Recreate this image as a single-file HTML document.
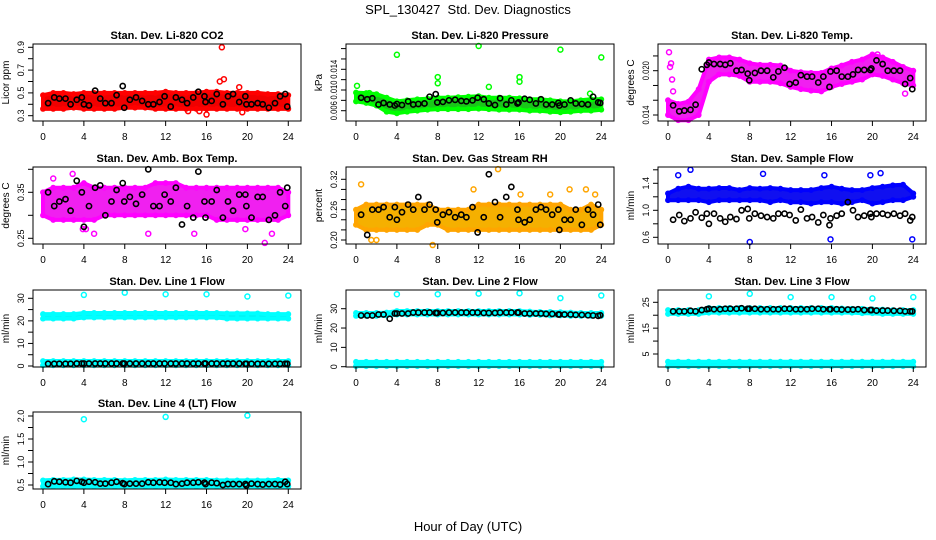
<!DOCTYPE html>
<html><head><meta charset="utf-8"><style>
body{margin:0;background:#fff}
svg{display:block;font-family:"Liberation Sans",sans-serif}
</style></head><body>
<svg id="chart" width="936" height="540" viewBox="0 0 936 540" xmlns="http://www.w3.org/2000/svg">
<text x="468" y="14" font-size="13" text-anchor="middle" xml:space="preserve">SPL_130427  Std. Dev. Diagnostics</text>
<text x="468" y="531" font-size="13" text-anchor="middle">Hour of Day (UTC)</text>
</svg>
<script>
const bandHours=[0,1,2,3,4,5,6,7,8,9,10,11,12,13,14,15,16,17,18,19,20,21,22,23,24];
const blackTimes=[0.5,1.1,1.6,2.2,2.7,3.3,3.8,4.0,4.5,5.1,5.6,6.1,6.7,7.2,7.8,7.95,8.5,9.1,9.7,10.3,10.8,11.4,11.9,12.5,13.0,13.6,14.1,14.7,15.2,15.8,15.9,16.5,17.0,17.6,18.1,18.6,19.2,19.8,19.9,20.4,21.0,21.5,22.1,22.7,23.2,23.7,23.9];
const xTicks=[0,4,8,12,16,20,24];
const titles=["Stan. Dev. Li-820 CO2","Stan. Dev. Li-820 Pressure","Stan. Dev. Li-820 Temp.","Stan. Dev. Amb. Box Temp.","Stan. Dev. Gas Stream RH","Stan. Dev. Sample Flow","Stan. Dev. Line 1 Flow","Stan. Dev. Line 2 Flow","Stan. Dev. Line 3 Flow","Stan. Dev. Line 4 (LT) Flow"];
const yTitles=["Licor ppm","kPa","degrees C","degrees C","percent","ml/min","ml/min","ml/min","ml/min","ml/min"];
const yTickVals=[[0.3,0.4,0.5,0.6,0.7,0.8,0.9],[0.006,0.008,0.010,0.012,0.014,0.016,0.018],[0.014,0.016,0.018,0.020,0.022],[0.25,0.30,0.35,0.40],[0.20,0.22,0.24,0.26,0.28,0.30,0.32],[0.6,0.8,1.0,1.2,1.4,1.6],[0,5,10,15,20,25,30],[0,10,20,30],[5,10,15,20,25],[0.5,0.75,1.0,1.25,1.5,1.75,2.0]];
const yTickLabels=[["0.3","","0.5","","0.7","","0.9"],["0.006","","0.010","","0.014","",""],["0.014","","","0.020",""],["0.25","","0.35",""],["0.20","","","0.26","","","0.32"],["0.6","","1.0","","1.4",""],["0","","10","","20","","30"],["0","10","20","30"],["5","","15","","25"],["0.5","","1.0","","1.5","","2.0"]];
const bandLo1=[.36,.36,.36,.37,.36,.36,.36,.36,.37,.37,.37,.36,.36,.36,.36,.36,.36,.36,.36,.36,.36,.36,.36,.36,.36];
const bandHi1=[.48,.50,.50,.49,.50,.50,.50,.50,.50,.50,.50,.50,.51,.50,.50,.50,.51,.51,.50,.50,.50,.50,.49,.49,.48];
const bandLo2=[.0078,.0075,.0070,.0058,.0055,.0058,.0060,.0062,.0063,.0063,.0063,.0063,.0064,.0063,.0062,.0062,.0062,.0060,.0060,.0058,.0057,.0058,.0060,.0060,.0062];
const bandHi2=[.0095,.0094,.0092,.0085,.0078,.0080,.0082,.0083,.0085,.0085,.0086,.0087,.0088,.0085,.0085,.0085,.0084,.0082,.0082,.0080,.0078,.0078,.0080,.0082,.0082];
const bandLo3=[.0140,.0133,.0133,.0140,.0185,.0195,.0195,.0193,.0185,.0185,.0185,.0183,.0178,.0175,.0173,.0172,.0178,.0182,.0185,.0188,.0195,.0193,.0188,.0183,.0180];
const bandHi3=[.0160,.0155,.0158,.0175,.0215,.0218,.0218,.0215,.0210,.0208,.0208,.0207,.0200,.0198,.0197,.0197,.0203,.0207,.0212,.0215,.0222,.0218,.0212,.0205,.0200];
const bandLo4=[.30,.29,.29,.29,.29,.29,.30,.30,.30,.30,.30,.30,.30,.30,.30,.30,.30,.29,.29,.29,.29,.29,.29,.29,.30];
const bandHi4=[.35,.36,.36,.36,.37,.36,.36,.36,.36,.36,.36,.37,.37,.37,.36,.36,.36,.36,.36,.36,.36,.36,.36,.36,.35];
const bandLo5=[.23,.22,.22,.22,.22,.22,.22,.23,.23,.22,.22,.22,.22,.22,.22,.22,.22,.22,.22,.22,.22,.22,.22,.22,.23];
const bandHi5=[.26,.27,.27,.27,.27,.27,.27,.27,.26,.26,.26,.26,.27,.27,.27,.27,.27,.27,.27,.27,.27,.26,.26,.27,.26];
const bandLo6=[1.15,1.15,1.15,1.15,1.12,1.15,1.15,1.15,1.15,1.15,1.12,1.15,1.12,1.12,1.10,1.12,1.12,1.10,1.12,1.15,1.10,1.12,1.15,1.15,1.20];
const bandHi6=[1.25,1.32,1.35,1.32,1.32,1.33,1.33,1.30,1.33,1.32,1.33,1.32,1.30,1.30,1.30,1.33,1.35,1.32,1.30,1.30,1.33,1.35,1.37,1.38,1.25];
const bandLo7a=[21,21,21,21,21.5,21.5,21.5,21.5,21.5,21.5,21.5,21.5,21.5,21.5,21.5,21.5,21.5,21.5,21,21,21,21,21,21,21];
const bandHi7a=[23,23,23,23,23.5,23.5,23.5,23.5,23.5,23.5,23.5,23.5,23.5,23.5,23.5,23.5,23.5,23.5,23.3,23.3,23.3,23.3,23,23,23];
const bandLo7b=[0.3,0.3,0.3,0.3,0.3,0.3,0.3,0.3,0.3,0.3,0.3,0.3,0.3,0.3,0.3,0.3,0.3,0.3,0.3,0.3,0.3,0.3,0.3,0.3,0.3];
const bandHi7b=[2.2,2.2,2.2,2.2,2.2,2.2,2.2,2.2,2.2,2.2,2.2,2.2,2.2,2.2,2.2,2.2,2.2,2.2,2.2,2.2,2.2,2.2,2.2,2.2,2.2];
const bandLo8a=[26.3,26.3,26.3,26.5,27,27,27,27,27,27,27,27,27,27,27,27,27,26.8,26.8,26.5,26.5,26.3,26.3,26.3,26.3];
const bandHi8a=[27.8,27.8,27.8,28,28.8,28.8,28.8,28.8,28.8,28.8,28.8,28.8,28.8,28.8,28.8,28.8,28.8,28.5,28.3,28.3,28.2,28,27.8,27.8,27.8];
const bandLo8b=[0.3,0.3,0.3,0.3,0.3,0.3,0.3,0.3,0.3,0.3,0.3,0.3,0.3,0.3,0.3,0.3,0.3,0.3,0.3,0.3,0.3,0.3,0.3,0.3,0.3];
const bandHi8b=[2.5,2.5,2.5,2.5,2.5,2.5,2.5,2.5,2.5,2.5,2.5,2.5,2.5,2.5,2.5,2.5,2.5,2.5,2.5,2.5,2.5,2.5,2.5,2.5,2.5];
const bandLo9a=[20.5,20.5,20.5,20.5,21,21,21,21,21,21,21,21,21,21,21,21,21,21,21,20.8,20.8,20.5,20.5,20.5,20.5];
const bandHi9a=[22,22,22,22,22.8,22.8,22.8,22.8,22.8,22.8,22.8,22.8,22.8,22.8,22.8,22.8,22.8,22.6,22.5,22.5,22.3,22.2,22,22,22];
const bandLo9b=[0.3,0.3,0.3,0.3,0.3,0.3,0.3,0.3,0.3,0.3,0.3,0.3,0.3,0.3,0.3,0.3,0.3,0.3,0.3,0.3,0.3,0.3,0.3,0.3,0.3];
const bandHi9b=[2,2,2,2,2,2,2,2,2,2,2,2,2,2,2,2,2,2,2,2,2,2,2,2,2];
const bandLo10=[.47,.47,.47,.47,.47,.47,.47,.47,.47,.47,.47,.47,.47,.47,.47,.47,.47,.47,.47,.47,.47,.47,.47,.47,.47];
const bandHi10=[.60,.61,.61,.62,.62,.61,.61,.61,.60,.61,.61,.61,.62,.61,.61,.61,.61,.60,.60,.60,.60,.60,.60,.61,.60];
const black1=[.41,.46,.45,.45,.40,.44,.46,.40,.39,.52,.45,.41,.41,.48,.56,.37,.44,.46,.43,.40,.40,.42,.47,.38,.46,.44,.41,.46,.51,.47,.42,.43,.49,.40,.47,.49,.42,.47,.40,.40,.41,.40,.37,.41,.47,.49,.38];
const black2=[.0085,.0082,.0084,.0072,.0075,.0072,.0070,.0073,.0071,.0078,.0072,.0073,.0074,.0087,.0092,.0076,.0077,.0080,.0081,.0079,.0078,.0080,.0085,.0082,.0074,.0071,.0084,.0072,.0080,.0074,.0076,.0083,.0081,.0074,.0082,.0072,.0072,.0075,.0070,.0072,.0080,.0074,.0073,.0072,.0087,.0076,.0075];
const black3=[.0153,.0145,.0146,.0147,.0154,.0202,.0208,.0211,.0209,.0209,.0208,.0210,.0200,.0201,.0196,.0187,.0197,.0200,.0200,.0191,.0199,.0204,.0182,.0184,.0194,.0192,.0192,.0184,.0192,.0178,.0199,.0200,.0192,.0192,.0195,.0201,.0201,.0201,.0203,.0214,.0209,.0200,.0200,.0200,.0182,.0190,.0175];
const black4=[.35,.32,.33,.335,.31,.375,.35,.275,.32,.36,.365,.30,.33,.355,.37,.33,.34,.325,.345,.40,.32,.32,.345,.33,.36,.28,.32,.295,.395,.33,.295,.33,.355,.295,.33,.31,.345,.345,.32,.295,.34,.34,.29,.30,.35,.32,.36];
const black5=[.25,.21,.26,.26,.265,.245,.265,.24,.255,.27,.26,.285,.26,.27,.26,.235,.25,.255,.245,.25,.245,.265,.215,.245,.33,.275,.245,.285,.305,.26,.24,.235,.24,.26,.265,.26,.25,.26,.22,.24,.24,.26,.23,.26,.25,.27,.23];
const black6=[.86,.93,.84,.88,.97,.89,.95,.80,.95,.88,.83,.90,.87,1.00,1.02,.88,.95,.92,.90,.88,.95,.95,.93,.85,1.01,.88,.90,.82,.93,.78,.88,.92,.95,1.12,1.00,.90,.92,.95,.90,.95,.95,.93,.95,.92,.95,.85,.90];
const black7=[1.0,1.0,1.0,1.0,1.0,1.1,1.1,1.1,1.1,1.1,1.1,1.1,1.1,1.1,1.1,1.1,1.1,1.1,1.1,1.1,1.1,1.1,1.1,1.1,1.1,1.1,1.1,1.1,1.1,1.1,1.1,1.1,1.1,1.1,1.1,1.1,1.1,1.0,1.0,1.0,1.0,1.0,1.0,1.0,1.0,1.0,1.0];
const black8=[26.5,26.5,26.5,27,27,24.8,27.5,27.5,27.5,27.5,28,28,28,28,27.8,27.8,27.8,28,28,28,28,28,28,27.8,27.8,27.8,28,28,28,28,28,27.5,27.5,27.5,27.5,27.3,27.3,27,27,27,27,26.8,26.8,26.6,26.5,26.3,26.6];
const black9=[21.5,21.5,21.5,21.7,21.5,22,22.3,22.5,22.3,22.3,22.5,22.5,22.5,22.7,22.5,22.5,22.5,22.3,22.3,22.3,22.3,22.5,22.5,22.3,22.3,22.3,22.5,22.5,22.3,22.3,22.3,22.3,22.2,22.2,22.2,22.3,22,22,22,21.8,21.8,21.8,21.7,21.7,21.5,21.5,21.5];
const black10=[.52,.58,.57,.56,.55,.59,.57,.55,.57,.56,.53,.53,.55,.57,.54,.52,.53,.53,.53,.56,.55,.56,.55,.55,.52,.53,.55,.55,.56,.55,.52,.55,.54,.50,.52,.52,.52,.52,.49,.53,.52,.51,.52,.52,.51,.57,.52];
const outT1=[17.5,17.3,17.7,19.2,16.0,15.3,14.2,19.5];
const outV1=[.90,.60,.62,.55,.31,.34,.34,.33];
const outT2=[0.1,4.0,8.0,8.0,12.0,13.0,16.0,16.0,20.0,24.0,22.9,1.3];
const outV2=[.0108,.0168,.0125,.0113,.0185,.0106,.0125,.0116,.0178,.0163,.0093,.0094];
const outT3=[0.1,0.2,0.3,0.4,0.5,23.2,20.5,5.4];
const outV3=[.0225,.0205,.0210,.0188,.0172,.0169,.0222,.0214];
const outT4=[1.0,2.9,3.9,10.3,14.8,19.8,21.7,22.4,4.2,5.0];
const outV4=[.38,.39,.27,.26,.26,.27,.24,.26,.27,.26];
const outT5=[0.5,1.5,13.9,11.5,16.1,19.0,20.9,22.5,23.4,7.5,2.0];
const outV5=[.31,.20,.34,.30,.29,.29,.30,.30,.29,.19,.20];
const outT6=[8.0,15.9,23.9,2.2,1.0,9.3,15.3,20.8,19.8];
const outV6=[.53,.57,.57,1.60,1.52,1.54,1.52,1.55,1.52];
const outT7=[4.0,8.0,12.0,16.0,20.0,24.0];
const outV7=[31.5,32.5,31.8,31.8,30.8,31.2];
const outT8=[4.0,8.0,12.0,16.0,20.0,24.0];
const outV8=[37.5,37.5,37.8,38,35.5,36.8];
const outT9=[4.0,8.0,12.0,16.0,20.0,24.0];
const outV9=[27.3,28.3,27.0,27.0,26.5,27.0];
const outT10=[4.0,12.0,20.0];
const outV10=[1.93,1.98,2.01];

const panels=[
 {col:0,row:0,c1:[0.3,115.7],c2:[0.9,47.3],color:"#ff0000",fill:"#f00000",bands:[[bandLo1,bandHi1]],black:black1,oT:outT1,oV:outV1},
 {col:1,row:0,c1:[0.006,110.7],c2:[0.014,69.3],color:"#00ff00",fill:"#19c819",bands:[[bandLo2,bandHi2]],black:black2,oT:outT2,oV:outV2},
 {col:2,row:0,c1:[0.014,115],c2:[0.020,70.7],color:"#ff00ff",fill:"#f020f0",bands:[[bandLo3,bandHi3]],black:black3,oT:outT3,oV:outV3},
 {col:0,row:1,c1:[0.25,238.3],c2:[0.35,192.3],color:"#ff00ff",fill:"#f020f0",bands:[[bandLo4,bandHi4]],black:black4,oT:outT4,oV:outV4},
 {col:1,row:1,c1:[0.20,240],c2:[0.32,179.3],color:"#ffa500",fill:"#f5b000",bands:[[bandLo5,bandHi5]],black:black5,oT:outT5,oV:outV5},
 {col:2,row:1,c1:[0.6,237.3],c2:[1.4,183.3],color:"#0000ff",fill:"#1010f0",bands:[[bandLo6,bandHi6]],black:black6,oT:outT6,oV:outV6},
 {col:0,row:2,c1:[0,366],c2:[30,298.3],color:"#00ffff",fill:"#00f0f0",bands:[[bandLo7a,bandHi7a],[bandLo7b,bandHi7b]],black:black7,oT:outT7,oV:outV7},
 {col:1,row:2,c1:[0,366.7],c2:[30,308.7],color:"#00ffff",fill:"#00f0f0",bands:[[bandLo8a,bandHi8a],[bandLo8b,bandHi8b]],black:black8,oT:outT8,oV:outV8},
 {col:2,row:2,c1:[5,354],c2:[25,302.3],color:"#00ffff",fill:"#00f0f0",bands:[[bandLo9a,bandHi9a],[bandLo9b,bandHi9b]],black:black9,oT:outT9,oV:outV9},
 {col:0,row:3,c1:[0.5,485],c2:[2.0,416],color:"#00ffff",fill:"#00f0f0",bands:[[bandLo10,bandHi10]],black:black10,oT:outT10,oV:outV10}
];
const colLeft=[33,346,658], rowTop=[44,167,290,412], boxW=268, boxH=77;
const NS="http://www.w3.org/2000/svg";
const svg=document.getElementById('chart');
function mk(tag,attrs,parent){const e=document.createElementNS(NS,tag);for(const k in attrs)e.setAttribute(k,attrs[k]);(parent||svg).appendChild(e);return e;}

panels.forEach((p,i)=>{
  const L=colLeft[p.col], T=rowTop[p.row];
  const xs=t=>L+10+t*10.22;
  const ys=v=>p.c1[1]+(v-p.c1[0])*(p.c2[1]-p.c1[1])/(p.c2[0]-p.c1[0]);
  const g=mk('g',{});
  
  
  const tt=mk('text',{x:L+boxW/2,y:T-5,'font-size':11,'font-weight':'bold','text-anchor':'middle'},g);
  tt.textContent=titles[i];
  
  
  const clip=mk('g',{},g);
  p.bands.forEach(b=>{
    const lo=b[0],hi=b[1];
    let d='';
    bandHours.forEach((h,k)=>{d+=(k?'L':'M')+xs(h).toFixed(1)+','+ys(hi[k]).toFixed(1);});
    for(let k=bandHours.length-1;k>=0;k--)d+='L'+xs(bandHours[k]).toFixed(1)+','+ys(lo[k]).toFixed(1);
    const ar=mk('path',{d:d+'Z',fill:p.fill,stroke:p.color,'stroke-width':4,'stroke-linejoin':'round'},clip);
    
    
    bandHours.forEach((h,k)=>{
      [lo[k],hi[k]].forEach(v=>{
        const c=mk('circle',{cx:xs(h),cy:ys(v),r:2.3,fill:'none',stroke:p.color,'stroke-width':1.3},clip);
        
        
      });
    });
  });
  p.oT.forEach((t,k)=>{
    const c=mk('circle',{cx:xs(t),cy:ys(p.oV[k]),r:2.5,fill:'none',stroke:p.color,'stroke-width':1.5},clip);
    
    
  });
  blackTimes.forEach((t,k)=>{
    const c=mk('circle',{cx:xs(t),cy:ys(p.black[k]),r:2.6,fill:'none',stroke:'#000','stroke-width':1.6},clip);
    
    
  });
  const box=mk('rect',{x:L,y:T,width:boxW,height:boxH,fill:'none',stroke:'#000','stroke-width':1},g);
  
  
  const B=T+boxH;
  mk('line',{x1:xs(0),x2:xs(24),y1:B,y2:B,stroke:'#000'},g);
  xTicks.forEach(t=>{
    mk('line',{x1:xs(t),x2:xs(t),y1:B,y2:B+5,stroke:'#000'},g);
    const lb=mk('text',{x:xs(t),y:B+19,'font-size':10,'text-anchor':'middle'},g);
    lb.textContent=t;
    
    
  });
  const yt=yTickVals[i];
  mk('line',{x1:L,x2:L,y1:ys(yt[0]),y2:ys(yt[yt.length-1]),stroke:'#000'},g);
  yt.forEach((v,k)=>{
    const y=ys(v);
    mk('line',{x1:L-5,x2:L,y1:y,y2:y,stroke:'#000'},g);
    const s=yTickLabels[i][k];
    if(s){
      const at={x:0,y:0,'font-size':9,'text-anchor':'middle',transform:`translate(${L-9},${y}) rotate(-90)`};
      if(s.length>=5){at.textLength=19;at.lengthAdjust='spacingAndGlyphs';}
      const lb=mk('text',at,g);
      lb.textContent=s;
      
      
    }
  });
  const yl=mk('text',{x:0,y:0,'font-size':10,'text-anchor':'middle',transform:`translate(${L-24},${T+boxH/2}) rotate(-90)`},g);
  yl.textContent=yTitles[i];
  
  
});
</script>
</body></html>
